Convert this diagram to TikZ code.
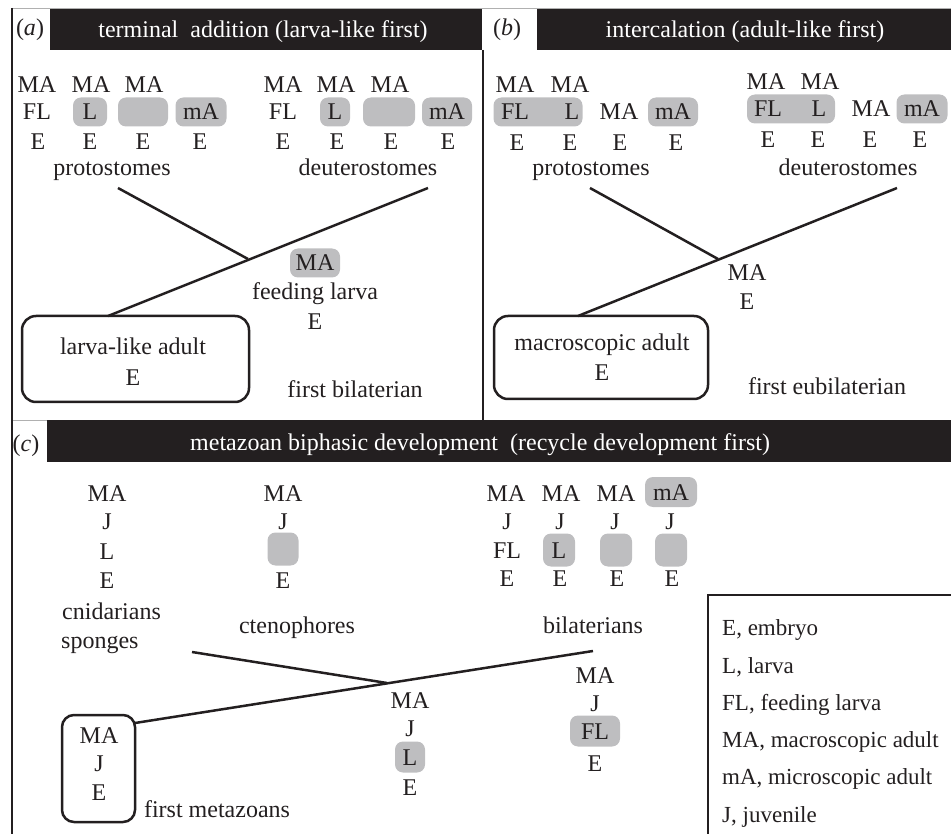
\documentclass[tikz,border=0pt]{standalone}
\usepackage{fontspec}
\setmainfont{Liberation Serif}
\definecolor{ink}{HTML}{231F20}
\definecolor{boxgray}{HTML}{BEBEC0}
\definecolor{rulegray}{HTML}{B0B0B0}
\begin{document}
\begin{tikzpicture}[x=1pt,y=-1pt,
 lab/.style={font=\fontsize{24}{28}\selectfont, inner sep=0pt, text height=16pt, text depth=0pt, text=ink},
 leg/.style={font=\fontsize{23}{27}\selectfont, inner sep=0pt, text height=15.5pt, text depth=0pt, anchor=west, text=ink},
 gbox/.style={fill=boxgray, rounded corners=8pt, minimum height=29pt, inner sep=0pt, minimum width=#1},
 gbox/.default=32,
 ttl/.style={font=\fontsize{24}{28}\selectfont, text=white, inner sep=0pt, text height=16pt, text depth=0pt},
 branch/.style={draw=ink, line width=2.5pt},
 stagebox/.style={draw=ink, line width=2.5pt, rounded corners=14pt, inner sep=0pt},
 frame/.style={draw=ink, line width=2.5pt}
]
\useasboundingbox (0,0) rectangle (951,834);
% ---------- frames and bars ----------
\draw[rulegray, line width=1pt] (12,9) -- (951,9);
\draw[rulegray, line width=1pt] (12,420) -- (47,420);
\fill[ink] (50,9) rectangle (482,50);
\fill[ink] (537,9) rectangle (951,50);
\fill[ink] (47,420) rectangle (951,462);
\draw[frame] (12,8) -- (12,834);
\draw[frame] (483,50) -- (483,420);
\draw[frame] (951,595) -- (708,595) -- (708,834);
% titles
\node[lab] (alab) at (30,28) {(\textit{a})};
\node[ttl] (atitle) at (263,30) {terminal\ \ addition (larva-like first)};
\node[lab] (blab) at (507,28) {(\textit{b})};
\node[ttl] (btitle) at (745,30) {intercalation (adult-like first)};
\node[lab] (clab) at (26,443) {(\textit{c})};
\node[ttl, anchor=west] (ctitle) at (190,442) {metazoan biphasic development\ \ (recycle development first)};
% ---------- panel a ----------
\node[lab] (aP1a) at (37,85) {MA};
\node[lab] (aP2a) at (91,85) {MA};
\node[lab] (aP3a) at (144,85) {MA};
\node[lab] (aP1b) at (37,112) {FL};
\node[lab,gbox=34] (aP2b) at (90,112) {L};
\node[gbox=50] (aP3b) at (143,112) {};
\node[lab,gbox=51] (aP4b) at (201,112) {mA};
\node[lab] (aP1c) at (38,142) {E};
\node[lab] (aP2c) at (90,142) {E};
\node[lab] (aP3c) at (143,142) {E};
\node[lab] (aP4c) at (200,142) {E};
\node[lab] (aProto) at (112,168) {protostomes};
\node[lab] (aD1a) at (283,85) {MA};
\node[lab] (aD2a) at (336,85) {MA};
\node[lab] (aD3a) at (390,85) {MA};
\node[lab] (aD1b) at (283,112) {FL};
\node[lab,gbox=30] (aD2b) at (335,112) {L};
\node[gbox=52] (aD3b) at (389,112) {};
\node[lab,gbox=50] (aD4b) at (447,112) {mA};
\node[lab] (aD1c) at (283,142) {E};
\node[lab] (aD2c) at (337,142) {E};
\node[lab] (aD3c) at (391,142) {E};
\node[lab] (aD4c) at (448,142) {E};
\node[lab] (aDeut) at (368,168) {deuterostomes};
\node[lab,gbox=50] (aFLma) at (315,263) {MA};
\node[lab] (aFL) at (315,292) {feeding larva};
\node[lab] (aFLe) at (315,322) {E};
\node[stagebox, minimum width=227, minimum height=86] (aRoot) at (135.5,359) {};
\node[lab] (aRoot1) at (133,347) {larva-like adult};
\node[lab] (aRoot2) at (133,377) {E};
\node[lab] (aFirst) at (355,390) {first bilaterian};
\coordinate (aPtip) at (118,188);
\coordinate (aJ) at (248,259);
\coordinate (aDtip) at (428,188);
\coordinate (aBase) at (108,316);
\draw[branch] (aPtip) -- (aJ);
\draw[branch] (aBase) -- (aDtip);
% ---------- panel b ----------
\node[lab] (bP1a) at (515,85) {MA};
\node[lab] (bP2a) at (570,85) {MA};
\node[gbox=89] (bP12b) at (538,112) {};
\node[lab] (bP1b) at (515,112) {FL};
\node[lab] (bP2b) at (572,112) {L};
\node[lab] (bP3b) at (619,112) {MA};
\node[lab,gbox=50] (bP4b) at (673,112) {mA};
\node[lab] (bP1c) at (517,143) {E};
\node[lab] (bP2c) at (570,143) {E};
\node[lab] (bP3c) at (620,143) {E};
\node[lab] (bP4c) at (676,143) {E};
\node[lab] (bProto) at (591,168) {protostomes};
\node[lab] (bD1a) at (766,82) {MA};
\node[lab] (bD2a) at (820,82) {MA};
\node[gbox=88] (bD12b) at (791,109) {};
\node[lab] (bD1b) at (768,109) {FL};
\node[lab] (bD2b) at (819,109) {L};
\node[lab] (bD3b) at (871,109) {MA};
\node[lab,gbox=51] (bD4b) at (922,109) {mA};
\node[lab] (bD1c) at (768,140) {E};
\node[lab] (bD2c) at (818,140) {E};
\node[lab] (bD3c) at (870,140) {E};
\node[lab] (bD4c) at (920,140) {E};
\node[lab] (bDeut) at (848,168) {deuterostomes};
\node[lab] (bMA) at (747,273) {MA};
\node[lab] (bE) at (747,302) {E};
\node[stagebox, minimum width=214, minimum height=83] (bRoot) at (601,357.5) {};
\node[lab] (bRoot1) at (602,343) {macroscopic adult};
\node[lab] (bRoot2) at (602,373) {E};
\node[lab] (bFirst) at (827,387) {first eubilaterian};
\coordinate (bPtip) at (590,188);
\coordinate (bJ) at (718,259);
\coordinate (bDtip) at (897,188);
\coordinate (bBase) at (578,316);
\draw[branch] (bPtip) -- (bJ);
\draw[branch] (bBase) -- (bDtip);
% ---------- panel c ----------
\node[lab] (cC1) at (107,493) {MA};
\node[lab] (cC2) at (107,521) {J};
\node[lab] (cC3) at (107,551) {L};
\node[lab] (cC4) at (107,580) {E};
\node[lab, anchor=west] (cCni) at (62,611) {cnidarians};
\node[lab, anchor=west] (cSpo) at (61,640) {sponges};
\node[lab] (cT1) at (283,493) {MA};
\node[lab] (cT2) at (283,521) {J};
\node[gbox=31, minimum height=33] (cT3) at (283,549) {};
\node[lab] (cT4) at (283,580) {E};
\node[lab] (cCte) at (297,625) {ctenophores};
\node[lab] (cB1a) at (506,493) {MA};
\node[lab] (cB2a) at (561,493) {MA};
\node[lab] (cB3a) at (616,493) {MA};
\node[lab,gbox=52, minimum height=30] (cB4a) at (671,492) {mA};
\node[lab] (cB1b) at (507,521) {J};
\node[lab] (cB2b) at (560,521) {J};
\node[lab] (cB3b) at (615,521) {J};
\node[lab] (cB4b) at (670,521) {J};
\node[lab] (cB1c) at (507,550) {FL};
\node[lab,gbox=32, minimum height=33] (cB2c) at (559,550) {L};
\node[gbox=32, minimum height=33] (cB3c) at (616,550) {};
\node[gbox=32, minimum height=33] (cB4c) at (671,550) {};
\node[lab] (cB1d) at (507,578) {E};
\node[lab] (cB2d) at (560,578) {E};
\node[lab] (cB3d) at (617,578) {E};
\node[lab] (cB4d) at (672,578) {E};
\node[lab] (cBil) at (593,625) {bilaterians};
\node[stagebox, rounded corners=12pt, minimum width=73, minimum height=107] (cRoot) at (98.5,768.5) {};
\node[lab] (cR1) at (99,735) {MA};
\node[lab] (cR2) at (99,763) {J};
\node[lab] (cR3) at (99,792) {E};
\node[lab] (cFirst) at (217,809) {first metazoans};
\node[lab] (cM1) at (410,700) {MA};
\node[lab] (cM2) at (410,728) {J};
\node[lab,gbox=30, minimum height=31] (cM3) at (410,757) {L};
\node[lab] (cM4) at (410,787) {E};
\node[lab] (cN1) at (595,675) {MA};
\node[lab] (cN2) at (595,703) {J};
\node[lab,gbox=50, minimum height=31] (cN3) at (595,731) {FL};
\node[lab] (cN4) at (595,763) {E};
\coordinate (cStip) at (192,652);
\coordinate (cJ) at (387,683);
\coordinate (cBtip) at (593,651);
\coordinate (cBase) at (135,723);
\draw[branch] (cStip) -- (cJ);
\draw[branch] (cBase) -- (cBtip);
% legend
\node[leg] (lg1) at (722,628) {E, embryo};
\node[leg] (lg2) at (722,666) {L, larva};
\node[leg] (lg3) at (722,703) {FL, feeding larva};
\node[leg] (lg4) at (722,740) {MA, macroscopic adult};
\node[leg] (lg5) at (722,777) {mA, microscopic adult};
\node[leg] (lg6) at (722,815) {J, juvenile};
\end{tikzpicture}
\end{document}
